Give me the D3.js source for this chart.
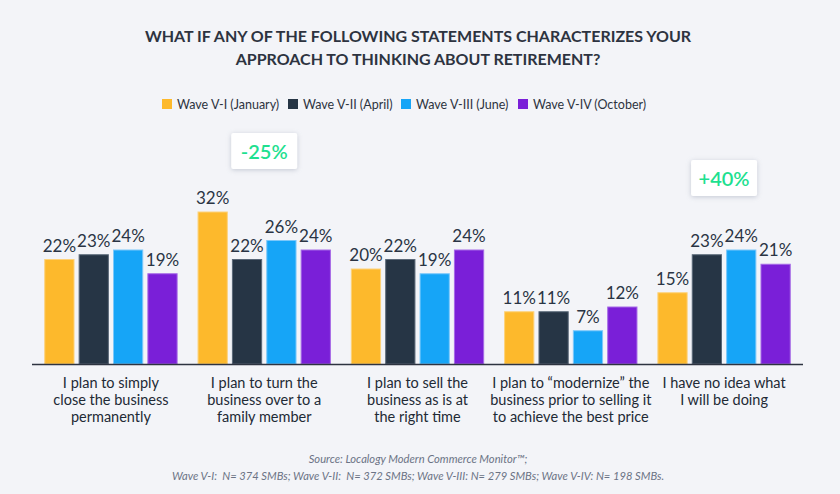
<!DOCTYPE html>
<html>
<head>
<meta charset="utf-8">
<script src="https://cdn.jsdelivr.net/npm/d3@7"></script>
<style>
  body { margin: 0; background: #f3f4f8; }
  svg { display: block; font-family: Lato, "Open Sans", sans-serif; }
</style>
</head>
<body>
<div id="chart"></div>
<script>
// data
var categories = [
  ["I plan to simply", "close the business", "permanently"],
  ["I plan to turn the", "business over to a", "family member"],
  ["I plan to sell the", "business as is at", "the right time"],
  ["I plan to \u201cmodernize\u201d the", "business prior to selling it", "to achieve the best price"],
  ["I have no idea what", "I will be doing"]
];
var seriesNames = ["Wave V-I (January)", "Wave V-II (April)", "Wave V-III (June)", "Wave V-IV (October)"];
var waveJan = [22, 32, 20, 11, 15];
var waveApr = [23, 22, 22, 11, 23];
var waveJun = [24, 26, 19, 7, 24];
var waveOct = [19, 24, 24, 12, 21];
var callouts = [{cat: 1, text: "-25%"}, {cat: 4, text: "+40%"}];

var colors = ["#fdb92c", "#263545", "#16a5f7", "#7a1fd8"];
var strokes = ["#fdd27a", "#5a6878", "#7cc8fa", "#a66ae6"];

var width = 840, height = 494;
var svg = d3.select("#chart").append("svg")
  .attr("width", width).attr("height", height);

svg.append("rect").attr("width", width).attr("height", height).attr("fill", "#f3f4f8");

// title
var title = ["WHAT IF ANY OF THE FOLLOWING STATEMENTS CHARACTERIZES YOUR", "APPROACH TO THINKING ABOUT RETIREMENT?"];
svg.selectAll(".title").data(title).enter().append("text")
  .attr("x", 418).attr("y", function(d, i) { return 42 + i * 23; })
  .attr("text-anchor", "middle")
  .attr("font-size", 16).attr("font-weight", "bold").attr("fill", "#2d3340")
  .text(function(d) { return d; });

// legend
var legendX = [162, 288, 401, 518];
var lg = svg.selectAll(".lg").data(seriesNames).enter().append("g")
  .attr("transform", function(d, i) { return "translate(" + legendX[i] + ",99)"; });
lg.append("rect").attr("width", 10).attr("height", 10)
  .attr("fill", function(d, i) { return colors[i]; });
lg.append("text").attr("x", 15).attr("y", 9.5)
  .attr("font-size", 12.5).attr("fill", "#2d3340")
  .text(function(d) { return d; });

// scales
var x0 = d3.scaleBand()
  .domain(d3.range(categories.length))
  .range([32, 803])
  .paddingInner(0.13).paddingOuter(0.08);
var x1 = d3.scaleBand()
  .domain(d3.range(seriesNames.length))
  .range([0, x0.bandwidth()])
  .paddingInner(0.12);
var y = d3.scaleLinear().domain([0, 32]).range([364, 212]);

var table = categories.map(function(c, i) {
  return [waveJan[i], waveApr[i], waveJun[i], waveOct[i]];
});

var groups = svg.selectAll(".grp").data(table).enter().append("g")
  .attr("transform", function(d, i) { return "translate(" + x0(i) + ",0)"; });

groups.selectAll("rect").data(function(d) { return d; }).enter().append("rect")
  .attr("x", function(d, j) { return x1(j) + 0.5; })
  .attr("y", function(d) { return y(d); })
  .attr("width", x1.bandwidth() - 1)
  .attr("height", function(d) { return y(0) - y(d); })
  .attr("fill", function(d, j) { return colors[j]; })
  .attr("stroke", function(d, j) { return strokes[j]; })
  .attr("stroke-width", 1);

groups.selectAll(".val").data(function(d) { return d; }).enter().append("text")
  .attr("x", function(d, j) { return x1(j) + x1.bandwidth() / 2; })
  .attr("y", function(d) { return y(d) - 8; })
  .attr("text-anchor", "middle")
  .attr("font-size", 17).attr("fill", "#2a3444")
  .text(function(d) { return d + "%"; });

// axis line
svg.append("line")
  .attr("x1", 32).attr("x2", 803).attr("y1", 364.5).attr("y2", 364.5)
  .attr("stroke", "#2d3340").attr("stroke-width", 1.5);

// category labels
var cl = svg.selectAll(".cat").data(categories).enter().append("text")
  .attr("text-anchor", "middle")
  .attr("font-size", 14.5).attr("fill", "#222a35");
cl.selectAll("tspan").data(function(d, i) { return d.map(function(t) { return {t: t, i: i}; }); })
  .enter().append("tspan")
  .attr("x", function(d) { return x0(d.i) + x0.bandwidth() / 2; })
  .attr("y", function(d, k) { return 388 + k * 17; })
  .text(function(d) { return d.t; });

// callout boxes
var defs = svg.append("defs");
var f = defs.append("filter").attr("id", "sh").attr("x", "-30%").attr("y", "-30%").attr("width", "160%").attr("height", "160%");
f.append("feDropShadow").attr("dx", 0).attr("dy", 1).attr("stdDeviation", 2.5)
  .attr("flood-color", "#8a93a6").attr("flood-opacity", 0.45);

var calloutY = [133, 160];
var cb = svg.selectAll(".co").data(callouts).enter().append("g")
  .attr("transform", function(d, i) {
    return "translate(" + (x0(d.cat) + x0.bandwidth() / 2 - 33) + "," + calloutY[i] + ")";
  });
cb.append("rect").attr("width", 66).attr("height", 36).attr("rx", 2)
  .attr("fill", "#ffffff").attr("filter", "url(#sh)");
cb.append("text").attr("x", 33).attr("y", 25.5).attr("text-anchor", "middle")
  .attr("font-size", 20).attr("font-weight", 600).attr("fill", "#1ee08f")
  .text(function(d) { return d.text; });

// source
var source = ["Source: Localogy Modern Commerce Monitor\u2122;",
  "Wave V-I:  N= 374 SMBs; Wave V-II:  N= 372 SMBs; Wave V-III: N= 279 SMBs; Wave V-IV: N= 198 SMBs."];
svg.selectAll(".src").data(source).enter().append("text")
  .attr("x", 418).attr("y", function(d, i) { return 463 + i * 17; })
  .attr("text-anchor", "middle")
  .attr("font-size", 11.2).attr("font-style", "italic").attr("fill", "#6b7385")
  .attr("xml:space", "preserve")
  .text(function(d) { return d; });
</script>
</body>
</html>
